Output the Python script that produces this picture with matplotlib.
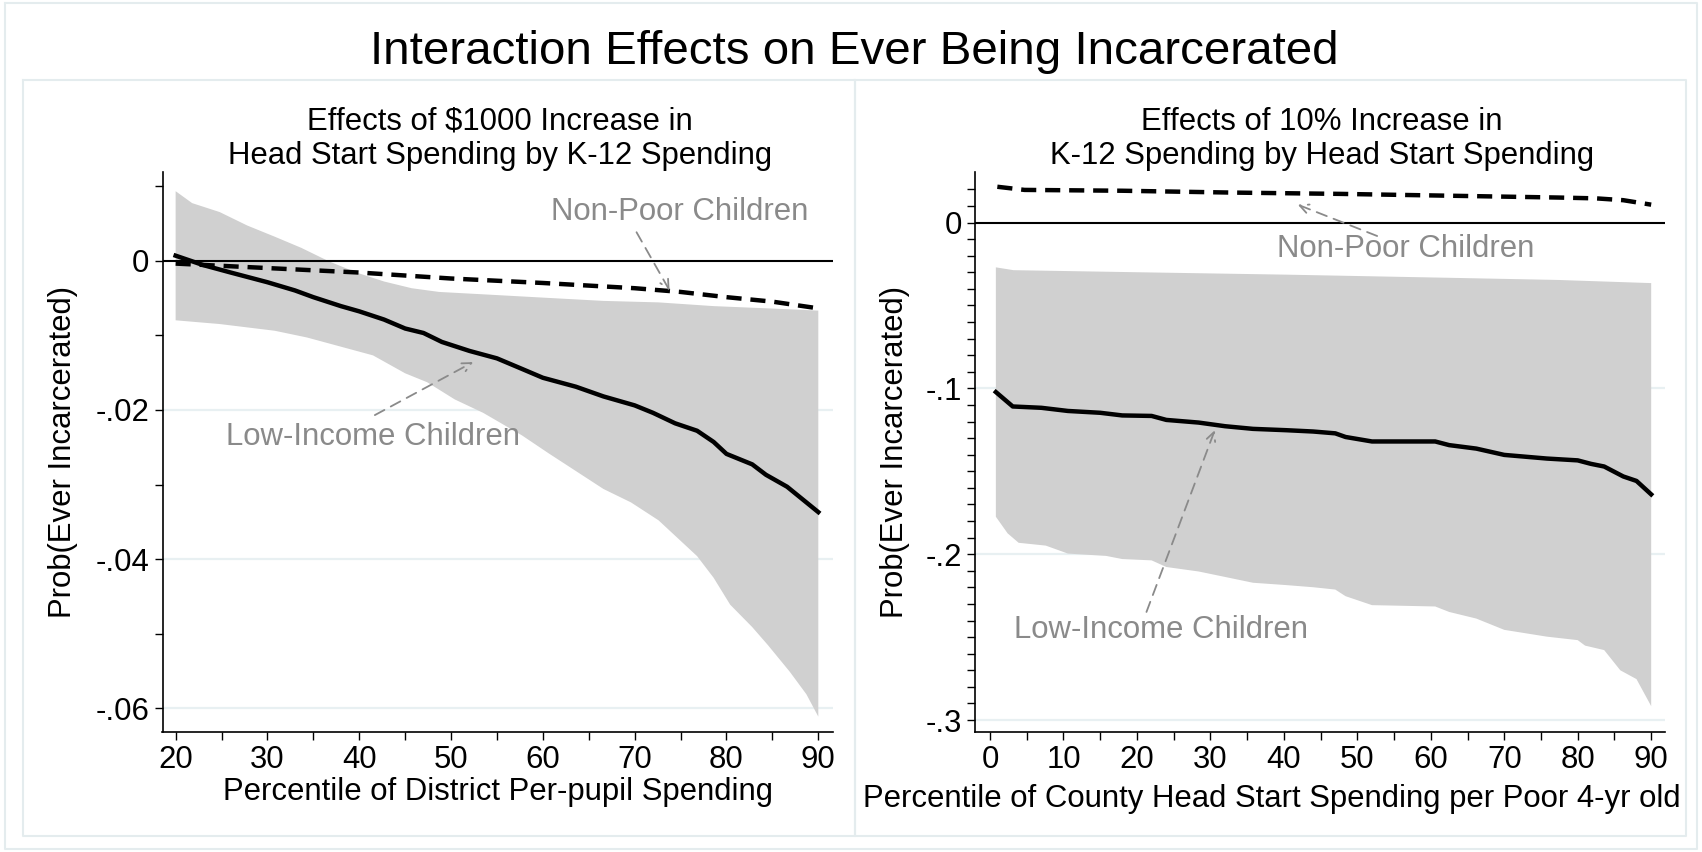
import matplotlib
matplotlib.use("Agg")
import matplotlib.pyplot as plt
from matplotlib.lines import Line2D
import numpy as np

plt.rcParams['font.family'] = ['Liberation Sans', 'DejaVu Sans']

# ---------------- data: left panel ----------------
L_low_x = [20, 23, 26, 30, 33, 35, 38, 40, 42.7, 45, 47, 49, 52, 55, 57.7, 60, 63.6,
           66.6, 70, 72, 74.4, 76.8, 78.6, 80, 82.8, 84.3, 86.6, 88.4, 90]
L_low_y = [0.00066, -0.0006, -0.0016, -0.0029, -0.0040, -0.0049, -0.0061, -0.0068,
           -0.0079, -0.0091, -0.0097, -0.0109, -0.0121, -0.0131, -0.0145, -0.0157,
           -0.0169, -0.0182, -0.0194, -0.0204, -0.0218, -0.0228, -0.0243, -0.0259,
           -0.0273, -0.0287, -0.0303, -0.0321, -0.0337]
L_np_x = [20, 30, 40, 50, 60, 70, 75, 80, 85, 90]
L_np_y = [-0.0004, -0.0010, -0.0016, -0.0024, -0.0030, -0.0037, -0.0042, -0.0049,
          -0.0055, -0.0064]
L_up_x = [20, 21.8, 24.8, 27.8, 30.8, 33.7, 36.7, 39.7, 42.7, 45.7, 48.7, 54.7, 60.6,
          66.6, 72.6, 78.6, 84.5, 90]
L_up_y = [0.0093, 0.0077, 0.0065, 0.0047, 0.0032, 0.0017, -0.0001, -0.0016, -0.0028,
          -0.0037, -0.0042, -0.0046, -0.0050, -0.0054, -0.0056, -0.0061, -0.0064,
          -0.0067]
L_lo_x = [20, 24.8, 30.8, 34.3, 37.9, 41.5, 45, 47.4, 50.4, 53.5, 57.7, 60.6, 63.6,
          66.6, 69.6, 72.6, 76.8, 78.6, 80.4, 82.8, 84.5, 86.9, 88.7, 90]
L_lo_y = [-0.0080, -0.0085, -0.0094, -0.0103, -0.0115, -0.0127, -0.0151, -0.0163,
          -0.0186, -0.0204, -0.0234, -0.0258, -0.0282, -0.0306, -0.0324, -0.0348,
          -0.0396, -0.0425, -0.0461, -0.0491, -0.0515, -0.0551, -0.0581, -0.0611]

# ---------------- data: right panel ----------------
R_low_x = [0.8, 3.1, 7, 10.6, 15, 18, 22, 24, 28.4, 32, 35.8, 40.3, 44, 47, 48.4, 52,
           60.6, 62.5, 66.2, 70, 75.8, 80, 81.8, 83.6, 86.2, 88, 90]
R_low_y = [-0.1022, -0.1109, -0.1117, -0.1136, -0.1147, -0.1163, -0.1166, -0.1190,
           -0.1206, -0.1228, -0.1244, -0.1252, -0.1260, -0.1271, -0.1293, -0.1320,
           -0.1320, -0.1342, -0.1363, -0.1401, -0.1423, -0.1434, -0.1455, -0.1471,
           -0.1531, -0.1558, -0.1639]
R_np_x = [1, 4.7, 18, 32.8, 47.7, 62.5, 77.3, 82.5, 86.2, 90]
R_np_y = [0.0216, 0.0197, 0.0192, 0.0181, 0.0173, 0.0162, 0.0151, 0.0146, 0.0135, 0.0108]
R_up_x = [0.8, 3.2, 18, 40.3, 62.5, 77.3, 90]
R_up_y = [-0.0270, -0.0287, -0.0298, -0.0314, -0.0333, -0.0346, -0.0365]
R_lo_x = [0.8, 2.4, 3.9, 7.6, 10.6, 15.8, 18, 22, 24, 28.4, 32, 35.8, 40.3, 44, 47,
          48.4, 52, 60.6, 62.5, 66.2, 70, 75.8, 80, 81, 83.6, 85.8, 88, 90]
R_lo_y = [-0.1774, -0.1874, -0.1931, -0.1948, -0.1996, -0.2010, -0.2029, -0.2037,
          -0.2077, -0.2104, -0.2137, -0.2172, -0.2186, -0.2199, -0.2213, -0.2253,
          -0.2307, -0.2315, -0.2348, -0.2388, -0.2456, -0.2497, -0.2518, -0.2551,
          -0.2578, -0.2700, -0.2753, -0.2916]

# ticks / labels
L_xticks = [20, 30, 40, 50, 60, 70, 80, 90]
L_xminor = [25, 35, 45, 55, 65, 75, 85]
L_yticks = [0, -0.02, -0.04, -0.06]
L_ylabels = ['0', '-.02', '-.04', '-.06']
L_yminor = [0.01, -0.01, -0.03, -0.05]
R_xticks = [0, 10, 20, 30, 40, 50, 60, 70, 80, 90]
R_xminor = [5, 15, 25, 35, 45, 55, 65, 75, 85]
R_yticks = [0, -0.1, -0.2, -0.3]
R_ylabels = ['0', '-.1', '-.2', '-.3']
R_yminor = [v / 100 for v in range(2, -30, -1) if v % 10 != 0]

title = 'Interaction Effects on Ever Being Incarcerated'
L_title = 'Effects of $1000 Increase in\nHead Start Spending by K-12 Spending'
R_title = 'Effects of 10% Increase in\nK-12 Spending by Head Start Spending'
L_xlabel = 'Percentile of District Per-pupil Spending'
R_xlabel = 'Percentile of County Head Start Spending per Poor 4-yr old'
ylabel = 'Prob(Ever Incarcerated)'

W, H = 1702, 852
fig = plt.figure(figsize=(W / 100, H / 100), dpi=100)
fig.patch.set_facecolor('white')

def fx(px):
    return px / W

def fy(py):
    return 1 - py / H

BAND = '#d0d0d0'
GRID = '#e8f0f2'
GRAYTXT = '#8a8a8a'
FRAME = '#e4ecee'
TICKFS = 22.4
LABFS = 22.4

axL = fig.add_axes([fx(162.5), fy(732), fx(833) - fx(162.5), fy(172) - fy(732)])
axR = fig.add_axes([fx(975), fy(732), fx(1665) - fx(975), fy(172) - fy(732)])

def style(ax, xt, xm, yt, yl, ym, xlim, ylim):
    ax.set_xlim(*xlim)
    ax.set_ylim(*ylim)
    for s in ['top', 'right']:
        ax.spines[s].set_visible(False)
    for s in ['left', 'bottom']:
        ax.spines[s].set_linewidth(1.2)
    ax.set_xticks(xt)
    ax.set_xticks(xm, minor=True)
    ax.set_yticks(yt)
    ax.set_yticklabels(yl)
    ax.set_yticks(ym, minor=True)
    ax.tick_params(which='both', direction='out', length=5.5, width=1.0,
                   labelsize=TICKFS, pad=4)
    for v in yt[1:]:
        ax.axhline(v, color=GRID, lw=1.6, zorder=0)
    ax.axhline(0, color='black', lw=1.5, zorder=4)

style(axL, L_xticks, L_xminor, L_yticks, L_ylabels, L_yminor, (18.57, 91.6), (-0.06316, 0.01187))
style(axR, R_xticks, R_xminor, R_yticks, R_ylabels, R_yminor, (-2.04, 91.88), (-0.3072, 0.0305))

ARROW = dict(arrowstyle='->', color=GRAYTXT, lw=1.3, ls=(0, (6, 4)),
             mutation_scale=16, shrinkA=0, shrinkB=0)

# left panel
axL.fill(np.concatenate([L_up_x, L_lo_x[::-1]]), np.concatenate([L_up_y, L_lo_y[::-1]]),
         color=BAND, lw=0, zorder=1)
axL.plot(L_np_x, L_np_y, color='black', lw=3.2, dashes=(3.4, 2.0), zorder=3)
axL.plot(L_low_x, L_low_y, color='black', lw=3.2, zorder=3)
axL.annotate('', xy=(73.8, -0.0040), xytext=(70.2, 0.0038), arrowprops=ARROW, zorder=5)
axL.text(74.9, 0.0065, 'Non-Poor Children', color=GRAYTXT, fontsize=LABFS,
         ha='center', va='center', zorder=5)
axL.annotate('', xy=(52.4, -0.0136), xytext=(41.7, -0.0207), arrowprops=ARROW, zorder=5)
axL.text(41.5, -0.0236, 'Low-Income Children', color=GRAYTXT, fontsize=LABFS,
         ha='center', va='center', zorder=5)

# right panel
axR.fill(np.concatenate([R_up_x, R_lo_x[::-1]]), np.concatenate([R_up_y, R_lo_y[::-1]]),
         color=BAND, lw=0, zorder=1)
axR.plot(R_np_x, R_np_y, color='black', lw=3.2, dashes=(3.4, 2.0), zorder=3)
axR.plot(R_low_x, R_low_y, color='black', lw=3.2, zorder=3)
axR.annotate('', xy=(41.9, 0.0108), xytext=(52.7, -0.0081), arrowprops=ARROW, zorder=5)
axR.text(56.6, -0.0157, 'Non-Poor Children', color=GRAYTXT, fontsize=LABFS,
         ha='center', va='center', zorder=5)
axR.annotate('', xy=(30.6, -0.1252), xytext=(21.3, -0.2348), arrowprops=ARROW, zorder=5)
axR.text(23.3, -0.2456, 'Low-Income Children', color=GRAYTXT, fontsize=LABFS,
         ha='center', va='center', zorder=5)

# labels
axL.set_xlabel(L_xlabel, fontsize=LABFS)
axR.set_xlabel(R_xlabel, fontsize=LABFS)
axL.xaxis.set_label_coords(0.5, -0.080)
axR.xaxis.set_label_coords(0.43, -0.092)
axL.set_ylabel(ylabel, fontsize=LABFS)
axR.set_ylabel(ylabel, fontsize=LABFS)
axL.yaxis.set_label_coords(-0.126, 0.5)
axR.yaxis.set_label_coords(-0.094, 0.5)

fig.text(fx(500), fy(139), L_title, fontsize=LABFS, ha='center', va='center', linespacing=1.2)
fig.text(fx(1322), fy(139), R_title, fontsize=LABFS, ha='center', va='center', linespacing=1.2)
fig.text(fx(854), fy(52), title, fontsize=34.2, ha='center', va='center')

# frames
def frame(x0, y0, x1, y1):
    xs = [fx(x0), fx(x1), fx(x1), fx(x0), fx(x0)]
    ys = [fy(y0), fy(y0), fy(y1), fy(y1), fy(y0)]
    fig.add_artist(Line2D(xs, ys, color=FRAME, lw=1.5, transform=fig.transFigure))

frame(5, 3, 1697, 849)
frame(23, 80, 855, 836)
frame(855, 80, 1686, 836)

fig.savefig('out.png', dpi=100, facecolor='white')
